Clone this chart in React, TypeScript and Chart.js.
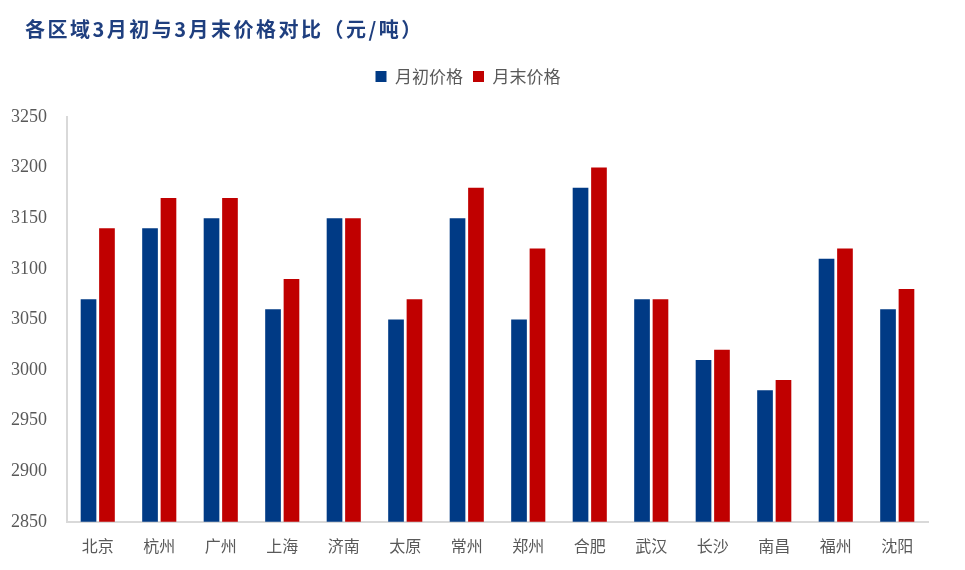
import React, { useEffect, useRef } from "react";
import { Chart, registerables } from "chart.js";

Chart.register(...registerables);

const categories = ["北京", "杭州", "广州", "上海", "济南", "太原", "常州", "郑州", "合肥", "武汉", "长沙", "南昌", "福州", "沈阳"];
const startPrices = [3070, 3140, 3150, 3060, 3150, 3050, 3150, 3050, 3180, 3070, 3010, 2980, 3110, 3060];
const endPrices = [3140, 3170, 3170, 3090, 3150, 3070, 3180, 3120, 3200, 3070, 3020, 2990, 3120, 3080];
const seriesNames = ["月初价格", "月末价格"];
const yMin = 2850;
const yMax = 3250;
const yStep = 50;

export default function App() {
  const ref = useRef<HTMLCanvasElement | null>(null);

  useEffect(() => {
    document.body.style.margin = "0";
    const canvas = ref.current;
    if (!canvas) return;
    const legendSpacer = {
      id: "legendSpacer",
      beforeInit(chart: any) {
        const orig = chart.legend.fit;
        chart.legend.fit = function () {
          orig.bind(chart.legend)();
          this.height += 22;
        };
      },
    };
    const chart = new Chart(canvas, {
      type: "bar",
      data: {
        labels: categories,
        datasets: [
          {
            label: seriesNames[0],
            data: startPrices,
            backgroundColor: "#003A85",
            categoryPercentage: 0.6,
            barPercentage: 0.85,
          },
          {
            label: seriesNames[1],
            data: endPrices,
            backgroundColor: "#C00000",
            categoryPercentage: 0.6,
            barPercentage: 0.85,
          },
        ],
      },
      options: {
        responsive: false,
        animation: false,
        layout: { padding: { top: 58, left: 8, right: 37, bottom: 7 } },
        plugins: {
          legend: {
            position: "top",
            labels: {
              boxWidth: 11,
              boxHeight: 11,
              color: "#595959",
              font: { family: "'Noto Sans CJK SC'", size: 17 },
              padding: 10,
            },
          },
          title: { display: false },
          tooltip: { enabled: false },
        },
        scales: {
          x: {
            grid: { display: false },
            border: { display: true, color: "#d9d9d9", width: 2 },
            ticks: {
              color: "#595959",
              font: { family: "'Noto Sans CJK SC'", size: 16 },
              padding: 7,
              maxRotation: 0,
            },
          },
          y: {
            min: yMin,
            max: yMax,
            grid: { display: false },
            border: { display: true, color: "#d9d9d9", width: 2 },
            ticks: {
              stepSize: yStep,
              color: "#595959",
              font: { family: "'Liberation Serif'", size: 18 },
              padding: 12,
              callback: (v: any) => String(v),
            },
            afterFit(scale: any) {
              scale.width = 59;
            },
          },
        },
      },
      plugins: [legendSpacer],
    });
    return () => chart.destroy();
  }, []);

  return (
    <div style={{ position: "relative", width: 965, height: 570, background: "#fff" }}>
      <div
        style={{
          position: "absolute",
          left: 25,
          top: 14,
          fontFamily: "'Noto Sans CJK SC'",
          fontWeight: 700,
          fontSize: 20,
          letterSpacing: 2.5,
          color: "#1F3F7F",
          lineHeight: "30px",
        }}
      >
        各区域3月初与3月末价格对比（元/吨）
      </div>
      <canvas ref={ref} width={965} height={570} style={{ display: "block" }} />
    </div>
  );
}
